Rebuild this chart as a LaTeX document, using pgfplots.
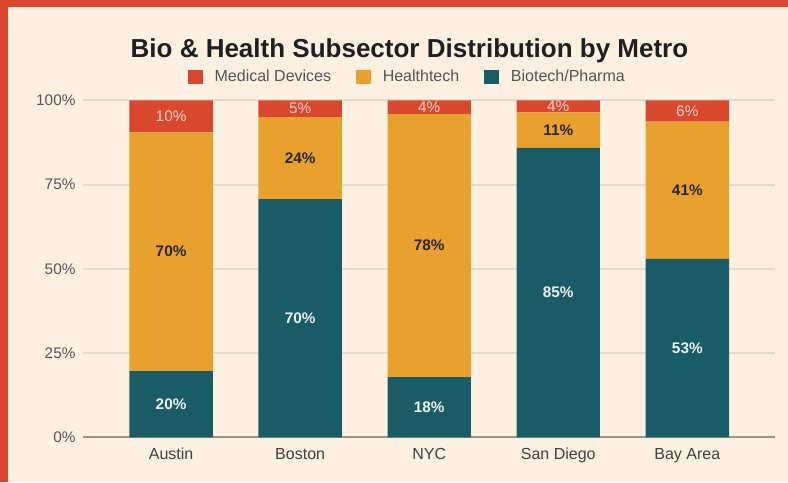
\documentclass[border=0pt]{standalone}
\usepackage{fontspec}
\setmainfont{Liberation Sans}
\usepackage{pgfplots}
\usepackage{pgfplotstable}
\pgfplotsset{compat=1.18}

\definecolor{bg}{HTML}{FCF1E1}
\definecolor{frame}{HTML}{D9462B}
\definecolor{med}{HTML}{D9472E}
\definecolor{hlth}{HTML}{E8A12C}
\definecolor{bio}{HTML}{1A5C66}
\definecolor{gridc}{HTML}{E3DACD}
\definecolor{basec}{HTML}{9B9487}
\definecolor{txt}{HTML}{555555}
\definecolor{medlab}{HTML}{F7D6C8}

% segment heights as drawn, labels as printed
\pgfplotstableread{
x bio  health med lbio lhealth lmed
0 19.7 70.8   9.5 20   70      10
1 70.7 24.3   5.0 70   24      5
2 17.9 78.0   4.1 18   78      4
3 85.9 10.5   3.6 85   11      4
4 53.0 40.7   6.3 53   41      6
}\metro

\pgfplotsset{
  sq legend/.style={legend image code/.code={\fill[##1] (0pt,-5.6pt) rectangle (11.25pt,5.6pt);}},
}

\begin{document}
\begin{tikzpicture}
\path[use as bounding box] (0,0) rectangle (591pt,361.5pt);
\fill[bg] (0,0) rectangle (591pt,361.5pt);
\fill[frame] (0,0) rectangle (6pt,361.5pt);
\fill[frame] (0,356.25pt) rectangle (591pt,361.5pt);
\node[anchor=base, font=\bfseries\fontsize{19.5}{22}\selectfont, text=black!88] at (307.1pt,318.4pt)
  {Bio \& Health Subsector Distribution by Metro};

\begin{axis}[
    at={(62.5pt,33.4pt)}, anchor=south west,
    scale only axis, width=518.8pt, height=252.9pt,
    ybar stacked, bar width=0.646,
    xmin=-0.68, xmax=4.68, ymin=0, ymax=100,
    clip=false,
    /pgf/number format/assume math mode=true,
    axis line style={draw=none},
    xtick={0,1,2,3,4},
    xticklabels={Austin,Boston,NYC,San Diego,Bay Area},
    ytick={0,25,50,75,100},
    yticklabel={\pgfmathprintnumber{\tick}\%},
    major tick length=0,
    ymajorgrids, grid style={draw=gridc, line width=1.5pt},
    extra y ticks={0}, extra y tick labels={},
    extra y tick style={grid style={draw=basec, line width=1.5pt}},
    xticklabel style={font=\fontsize{12}{14}\selectfont, text=black!75, yshift=-4.5pt},
    yticklabel style={font=\fontsize{11.5}{13}\selectfont, text=txt, xshift=-2.4pt},
    legend style={at={(0.4687,1.069)}, anchor=center, draw=none, fill=none,
                  legend columns=3, font=\fontsize{12}{14}\selectfont, text=txt,
                  /tikz/every odd column/.append style={column sep=7pt},
                  /tikz/every even column/.append style={column sep=16.5pt}},
    reverse legend,
    point meta=explicit,
    nodes near coords={\pgfmathprintnumber{\pgfplotspointmeta}\%},
]
\addplot[fill=bio, draw=none, sq legend,
    every node near coord/.append style={anchor=center,
        font=\bfseries\fontsize{11.5}{13}\selectfont, text=white!92!bio}]
    table[x=x, y=bio, meta=lbio] {\metro};
\addlegendentry{Biotech/Pharma}
\addplot[fill=hlth, draw=none, sq legend,
    every node near coord/.append style={anchor=center,
        font=\bfseries\fontsize{11.5}{13}\selectfont, text=black!85}]
    table[x=x, y=health, meta=lhealth] {\metro};
\addlegendentry{Healthtech}
\addplot[fill=med, draw=none, sq legend,
    every node near coord/.append style={anchor=center,
        font=\fontsize{11.5}{13}\selectfont, text=medlab}]
    table[x=x, y=med, meta=lmed] {\metro};
\addlegendentry{Medical Devices}
\end{axis}
\end{tikzpicture}
\end{document}
